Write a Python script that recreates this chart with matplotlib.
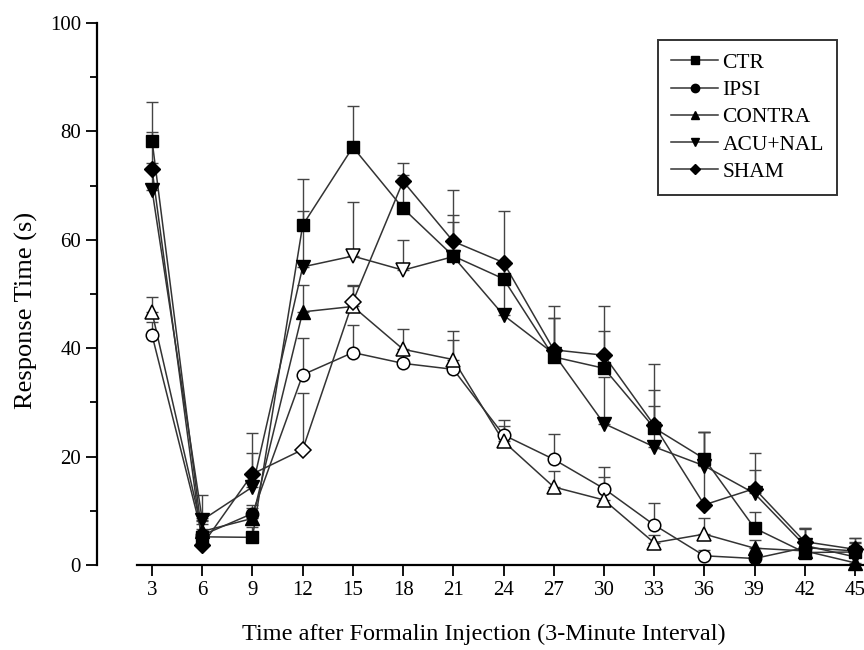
import numpy as np
import matplotlib.pyplot as plt
from matplotlib.lines import Line2D

plt.rcParams['font.family'] = ['Liberation Serif', 'DejaVu Serif']

minutes = [3, 6, 9, 12, 15, 18, 21, 24, 27, 30, 33, 36, 39, 42, 45]

ctr = [78.3, 5.2, 5.1, 62.7, 77.1, 65.8, 57.0, 52.8, 38.4, 36.3, 25.3, 19.6, 6.8, 2.3, 2.4]
ctr_err = [7.2, 3.0, 2.0, 8.6, 7.6, 6.2, 6.3, 3.0, 9.3, 6.9, 11.7, 5.0, 3.0, 4.5, 2.6]
ctr_open = [0] * 15

ipsi = [42.4, 5.5, 9.5, 35.1, 39.2, 37.2, 36.1, 24.0, 19.5, 14.1, 7.4, 1.7, 1.2, 3.2, 2.6]
ipsi_err = [2.5, 2.0, 1.5, 6.7, 5.1, 2.0, 5.4, 2.8, 4.7, 4.0, 4.0, 1.0, 1.0, 1.5, 1.5]
ipsi_open = [1, 0, 0, 1, 1, 1, 1, 1, 1, 1, 1, 1, 0, 0, 0]

contra = [46.6, 6.2, 8.6, 46.7, 47.7, 39.8, 37.9, 22.8, 14.4, 12.0, 4.1, 5.7, 3.1, 2.6, 0.4]
contra_err = [2.9, 2.5, 2.0, 5.0, 3.8, 3.7, 5.3, 2.8, 3.0, 4.3, 1.5, 2.9, 1.5, 2.0, 2.0]
contra_open = [1, 0, 0, 0, 1, 1, 1, 1, 1, 1, 1, 1, 0, 0, 0]

acu = [69.2, 8.3, 14.4, 55.0, 57.0, 54.4, 56.9, 46.1, 39.0, 26.1, 21.8, 18.3, 13.2, 3.6, 1.5]
acu_err = [4.9, 4.6, 6.3, 10.4, 10.0, 5.6, 7.7, 10.0, 6.5, 8.6, 7.5, 6.3, 4.3, 3.0, 2.8]
acu_open = [0, 0, 0, 0, 1, 1, 0, 0, 0, 0, 0, 0, 0, 0, 0]

sham = [73.0, 3.7, 16.8, 21.3, 48.6, 70.8, 59.7, 55.8, 39.7, 38.7, 25.8, 11.1, 14.1, 4.3, 2.9]
sham_err = [6.8, 3.0, 7.5, 10.4, 3.0, 3.3, 9.5, 9.6, 5.8, 9.0, 6.4, 13.5, 6.6, 2.5, 2.0]
sham_open = [0, 0, 0, 1, 1, 0, 0, 0, 0, 0, 0, 0, 0, 0, 0]

labels = ['CTR', 'IPSI', 'CONTRA', 'ACU+NAL', 'SHAM']
series = [ctr, ipsi, contra, acu, sham]
errors = [ctr_err, ipsi_err, contra_err, acu_err, sham_err]
opens = [ctr_open, ipsi_open, contra_open, acu_open, sham_open]
markers = ['s', 'o', '^', 'v', 'D']
msizes = [8, 9, 10, 10, 8]

fig = plt.figure(figsize=(8.64, 6.5), dpi=100)
ax = fig.add_axes([137 / 864, 85 / 650, 1 - 137 / 864, (565 - 23) / 650])

x = np.array(minutes)
for y, err, op, m, ms in zip(series, errors, opens, markers, msizes):
    y = np.array(y)
    op = np.array(op, dtype=bool)
    ax.errorbar(x, y, yerr=[np.zeros(len(y)), err], fmt='none', ecolor='#444444',
                elinewidth=1, capsize=4, capthick=1, zorder=1)
    ax.plot(x, y, color='#333333', lw=1.1, zorder=2)
    ax.plot(x[~op], y[~op], ls='none', marker=m, ms=ms, mfc='black', mec='black',
            zorder=3, clip_on=False)
    ax.plot(x[op], y[op], ls='none', marker=m, ms=ms, mfc='white', mec='black',
            mew=1.1, zorder=4, clip_on=False)

ax.set_xlim(2.1, 45.54)
ax.set_ylim(0, 100)
ax.set_xticks(minutes)
ax.set_yticks(range(0, 101, 20))
ax.set_yticks(range(10, 100, 20), minor=True)
ax.tick_params(axis='both', which='major', labelsize=15, length=8, width=1.3, direction='out')
ax.tick_params(axis='y', which='minor', length=5, width=1.3, direction='out')

for s in ['top', 'right']:
    ax.spines[s].set_visible(False)
ax.spines['left'].set_position(('outward', 28.8))
ax.spines['left'].set_linewidth(1.6)
ax.spines['bottom'].set_linewidth(1.6)

ax.set_ylabel('Response Time (s)', fontsize=19)
ax.set_xlabel('Time after Formalin Injection (3-Minute Interval)', fontsize=17.5)
ax.xaxis.set_label_coords(0.477, -0.108)
ax.yaxis.set_label_coords(-0.136, 0.47)

handles = [Line2D([0], [0], color='#333333', lw=1.1, marker=m, ms=6 if m != 'D' else 5,
                  mfc='black', mec='black') for m in markers]
leg = ax.legend(handles, labels, loc='upper right', bbox_to_anchor=(837 / 864, 1 - 40 / 650),
                bbox_transform=fig.transFigure, borderaxespad=0, fontsize=15.5,
                frameon=True, fancybox=False, edgecolor='black', handlelength=2.2,
                handletextpad=0.2, labelspacing=0.33, borderpad=0.6)
leg.get_frame().set_linewidth(1.4)

fig.savefig('out.png', dpi=100)
